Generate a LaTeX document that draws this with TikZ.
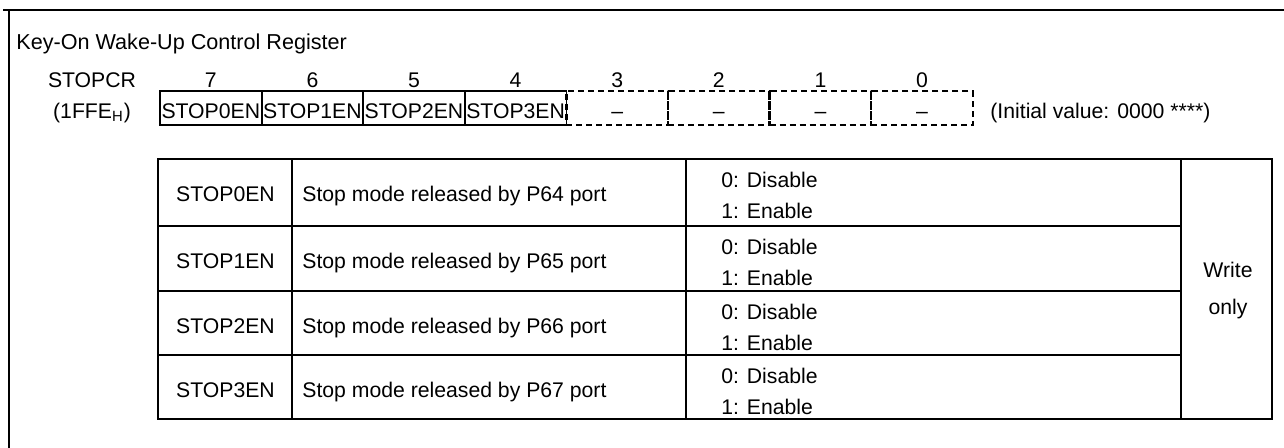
\documentclass[tikz,border=0pt]{standalone}
\usepackage{fontspec}
\setmainfont{Liberation Sans}
\usetikzlibrary{positioning}

\begin{document}
\begin{tikzpicture}[x=0.5pt,y=-0.5pt,font=\fontsize{10.6}{13}\selectfont,
    celltext/.style={inner sep=0pt,text height=7.6pt,text depth=0pt},
    bitcell/.style={draw,line width=0.9pt,minimum width=50.8pt,minimum height=17pt,
        inner sep=0pt,text height=11pt,text depth=0pt},
    freecell/.style={bitcell,dash pattern=on 3pt off 2pt,line width=1.15pt},
    rule/.style={line width=1pt}]
    \useasboundingbox (0,0) rectangle (1284,448);

    \draw[line width=1pt] (3,10) -- (1284,10);
    \draw[line width=0.85pt] (9,10) -- (9,448);

    \node[celltext,anchor=west,font=\fontsize{10.8}{13}\selectfont] (title) at (16,42) {Key-On Wake-Up Control Register};
    \node[celltext] (regname) at (92,80) {STOPCR};
    \node[celltext] (regaddr) at (92,111) {(1FFE\textsubscript{H})};

    \foreach \b/\t [count=\i from 0] in {7/STOP0EN,6/STOP1EN,5/STOP2EN,4/STOP3EN} {
        \node[bitcell] (b\b) at ({210.8+101.6*\i},108) {\t};
        \node[celltext] (n\b) at ({210.8+101.6*\i},80) {\b};
    }
    \foreach \b [count=\i from 4] in {3,2,1,0} {
        \node[freecell] (b\b) at ({210.8+101.6*\i},108) {--};
        \node[celltext] (n\b) at ({210.8+101.6*\i},80) {\b};
    }
    \node[celltext,anchor=west] (init) at (990,111) {(Initial value: 0000 ****)};

    \draw[rule] (158,159) rectangle (1272,419);
    \draw[rule] (292,159) -- (292,419);
    \draw[rule] (686,159) -- (686,419);
    \draw[rule] (1181,159) -- (1181,419);
    \foreach \y in {226,291,355}
        \draw[rule] (158,\y) -- (1181,\y);

    \foreach \row/\port/\top in {0/64/159,1/65/226,2/66/291,3/67/355} {
        \node[celltext] (f\row) at (225.5,{\top+35}) {STOP\row EN};
        \node[celltext,anchor=west] (d\row) at (302,{\top+35}) {Stop mode released by P\port\ port};
        \node[celltext,anchor=west] (z\row) at (721,{\top+21}) {0: Disable};
        \node[celltext,anchor=west] (o\row) at (721,{\top+52}) {1: Enable};
    }
    \node[celltext] (wr) at (1228,270) {Write};
    \node[celltext] (wo) at (1228,307) {only};
\end{tikzpicture}
\end{document}
